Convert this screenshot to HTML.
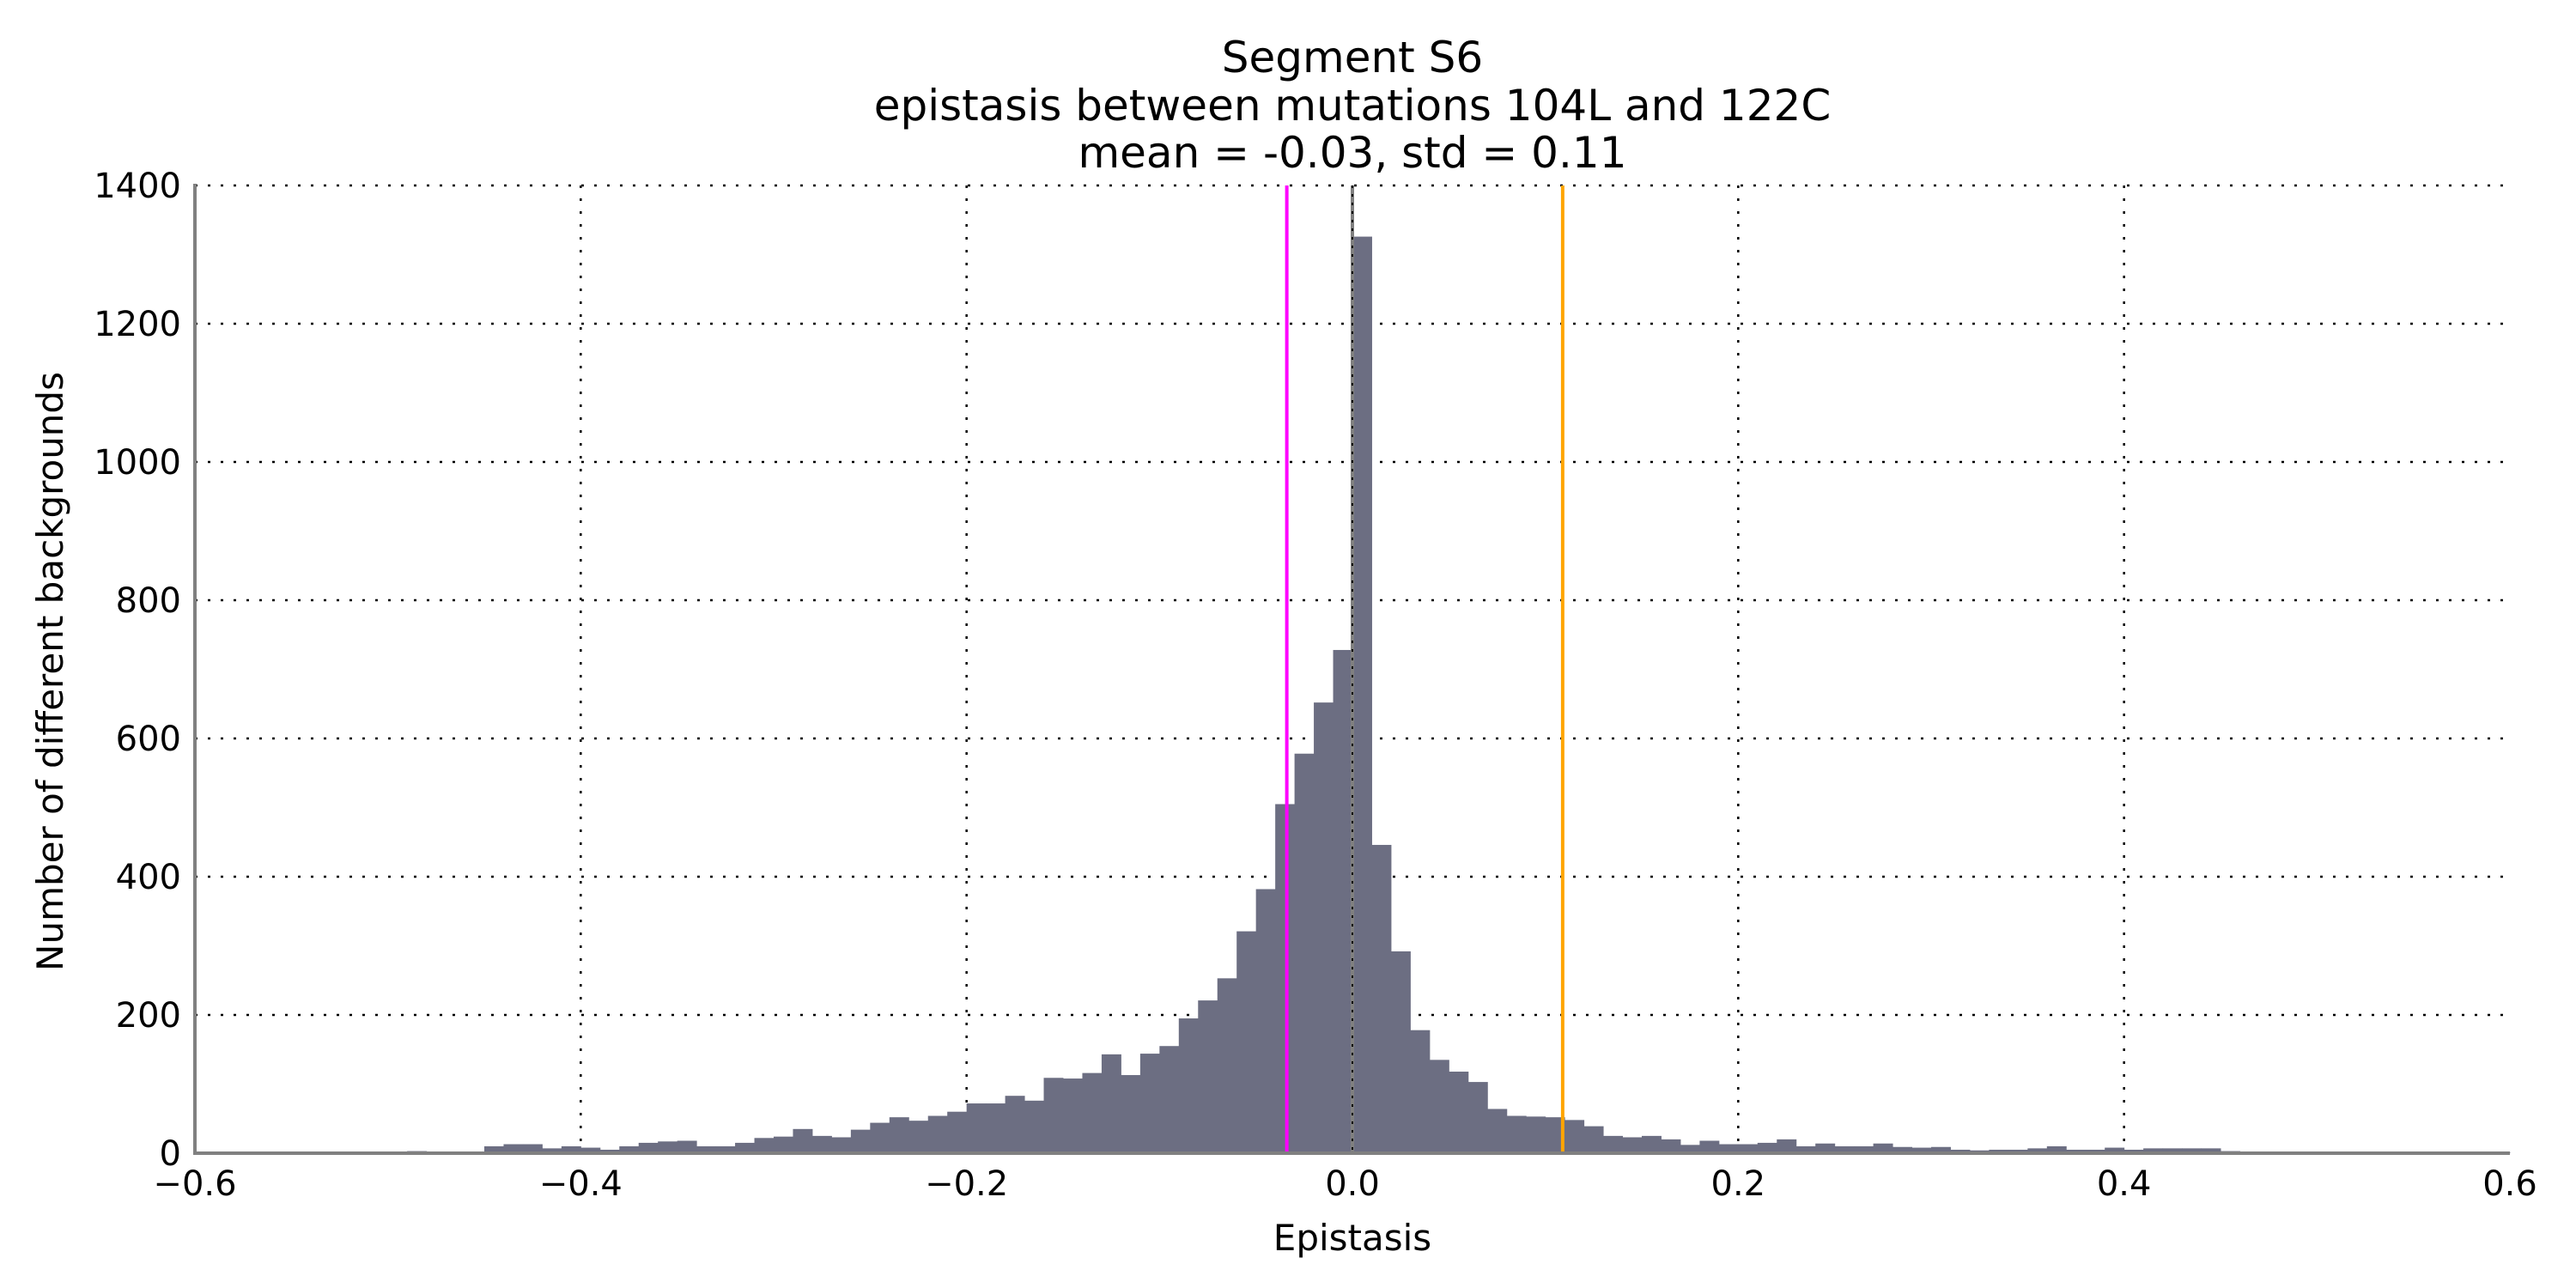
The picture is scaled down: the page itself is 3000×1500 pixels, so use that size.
<!DOCTYPE html>
<html><head><meta charset="utf-8"><style>
html,body{margin:0;padding:0;background:#fff;}
svg{display:block;font-family:"DejaVu Sans","Liberation Sans",sans-serif;}
</style></head><body>
<svg id="chart" width="3000" height="1500" viewBox="0 0 3000 1500">
<g id="grid"></g>
<g id="bars"></g>
<g id="vlines"></g>
<g id="axes"></g>
<g font-size="50" text-anchor="middle" fill="#000">
<text x="1575" y="84">Segment S6</text>
<text x="1575" y="140">epistasis between mutations 104L and 122C</text>
<text x="1575" y="195">mean = -0.03, std = 0.11</text>
</g>
<text x="1575" y="1456" font-size="42" text-anchor="middle">Epistasis</text>
<text x="0" y="0" font-size="42" text-anchor="middle" transform="translate(73,782) rotate(-90)">Number of different backgrounds</text>
</svg>
<script>
const binStart = -0.6;
const binWidth = 0.01;
const counts = [1,1,1,1,1,1,1,1,2,1,1,3,1,1,1,
10,13,13,7,10,8,5,10,15,17,18,10,10,15,22,24,35,25,23,34,44,52,47,54,60,72,72,83,76,109,108,116,143,113,144,155,195,221,253,321,382,505,578,652,728,
1326,446,292,178,135,118,103,64,54,53,52,48,39,25,23,25,20,12,18,13,13,15,20,10,14,10,10,14,9,8,9,5,4,5,5,7,10,5,5,8,5,7,7,7,7,3,
1,1,1,1,1,1,1,1,1,1,1,1,1,1];
const xTicks = [-0.6,-0.4,-0.2,0.0,0.2,0.4,0.6];
const xTickLabels = ["\u22120.6","\u22120.4","\u22120.2","0.0","0.2","0.4","0.6"];
const yTicks = [0,200,400,600,800,1000,1200,1400];
const meanValue = -0.034;
const upperValue = 0.109;

const NS = "http://www.w3.org/2000/svg";
const X0 = 227, X1 = 2923, Y0 = 1343, Y1 = 216;
const xs = v => X0 + (v + 0.6) / 1.2 * (X1 - X0);
const ys = v => Y0 - v / 1400 * (Y0 - Y1);
function mk(tag, attrs, parent){const e=document.createElementNS(NS,tag);for(const k in attrs)e.setAttribute(k,attrs[k]);parent.appendChild(e);return e;}
const grid=document.getElementById('grid'), bars=document.getElementById('bars'), vl=document.getElementById('vlines'), ax=document.getElementById('axes');

yTicks.forEach(t=>{
  if(t>0){const l=mk('line',{x1:X0,x2:X1,y1:ys(t),y2:ys(t),stroke:'#000','stroke-width':2.5,'stroke-dasharray':'3,12'},grid);
  
  }
  const tx=mk('text',{x:211,y:ys(t)+14,'font-size':40,'text-anchor':'end'},ax);
  
  
  tx.textContent=String(t);
});
xTicks.forEach((t,i)=>{
  if(i>0&&i<xTicks.length-1){const l=mk('line',{x1:xs(t),x2:xs(t),y1:Y1,y2:Y0,stroke:'#000','stroke-width':2.5,'stroke-dasharray':'3,12'},grid);
  
  }
  const tx=mk('text',{x:xs(t),y:1392,'font-size':40,'text-anchor':'middle'},ax);
  
  
  tx.textContent=xTickLabels[i];
});
counts.forEach((c,i)=>{
  const a=binStart+i*binWidth, b=a+binWidth;
  const r=mk('rect',{x:xs(a),y:ys(c),width:xs(b)-xs(a)+0.5,height:ys(0)-ys(c),fill:'#6c6e82'},bars);
  
  
});
const z=mk('line',{x1:xs(0),x2:xs(0),y1:Y1,y2:Y0,stroke:'#808080','stroke-width':4},vl);


const zd=mk('line',{x1:xs(0),x2:xs(0),y1:Y1,y2:Y0,stroke:'#000','stroke-width':2,'stroke-dasharray':'3,7'},vl);


const m=mk('line',{x1:xs(meanValue),x2:xs(meanValue),y1:Y1,y2:Y0,stroke:'#ff00ff','stroke-width':4},vl);


const o=mk('line',{x1:xs(upperValue),x2:xs(upperValue),y1:Y1,y2:Y0,stroke:'#ffa500','stroke-width':4},vl);


const sl=mk('line',{x1:X0,x2:X0,y1:Y1-2,y2:Y0+2,stroke:'#808080','stroke-width':4},ax);


const sb=mk('line',{x1:X0-2,x2:X1,y1:Y0,y2:Y0,stroke:'#808080','stroke-width':4},ax);


</script>
</body></html>
